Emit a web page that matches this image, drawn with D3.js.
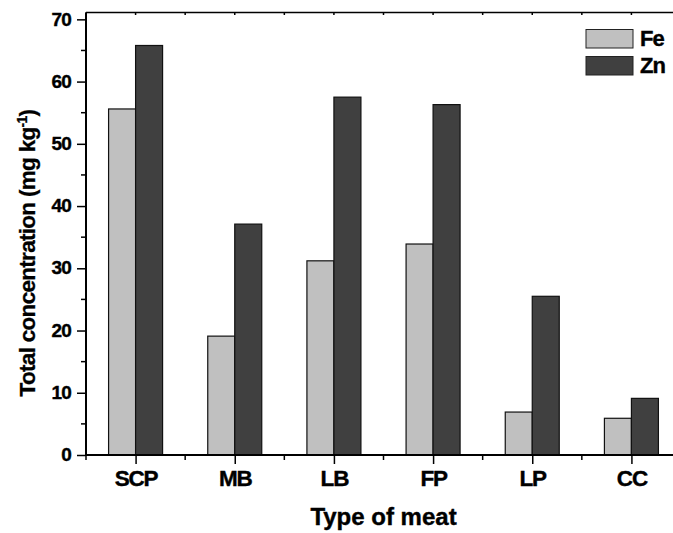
<!DOCTYPE html>
<html>
<head>
<meta charset="utf-8">
<script src="https://cdn.jsdelivr.net/npm/d3@7"></script>
<style>
  body { margin: 0; background: #fff; }
  text { font-family: "Liberation Sans", Arial, sans-serif; font-weight: bold; fill: #000; }
</style>
</head>
<body>
<svg id="chart" width="673" height="533"></svg>
<script>
var categories = ["SCP", "MB", "LB", "FP", "LP", "CC"]
var series = ["Fe", "Zn"]
var feValues = [55.6, 19.1, 31.2, 33.9, 6.9, 5.9]
var znValues = [65.8, 37.1, 57.5, 56.3, 25.5, 9.1]
var yTicks = [0, 10, 20, 30, 40, 50, 60, 70]
var colors = {Fe: "#c0c0c0", Zn: "#404040"}

var plotLeft = 86, plotRight = 681, plotTop = 12.5, plotBottom = 455
var svg = d3.select("#chart")

var x = d3.scalePoint().domain(categories).range([plotLeft, plotRight]).padding(0.5)
var step = x.step()
var xs = d3.scaleBand().domain(series).range([-27, 27])
var y = d3.scaleLinear().domain([0, 71.1]).range([plotBottom, plotTop])

var rows = categories.map(function(c, i) {
    return {cat: c, Fe: feValues[i], Zn: znValues[i]}
})

// bars
var g = svg.append("g")
g.selectAll("g.cat").data(rows).enter().append("g")
    .attr("transform", function(d) { return "translate(" + x(d.cat) + ",0)" })
    .selectAll("rect").data(function(d) { return series.map(function(s) { return {s: s, v: d[s]} }) })
    .enter().append("rect")
    .attr("x", function(d) { return xs(d.s) })
    .attr("width", xs.bandwidth())
    .attr("y", function(d) { return y(d.v) })
    .attr("height", function(d) { return plotBottom - y(d.v) })
    .attr("fill", function(d) { return colors[d.s] })
    .attr("stroke", "#111")
    .attr("stroke-width", 1.2)

// frame lines
svg.append("line").attr("x1", plotLeft).attr("x2", plotRight).attr("y1", plotTop).attr("y2", plotTop)
    .attr("stroke", "#000").attr("stroke-width", 1.5)
svg.append("line").attr("x1", plotRight).attr("x2", plotRight).attr("y1", plotTop).attr("y2", plotBottom)
    .attr("stroke", "#000").attr("stroke-width", 1.5)

// top axis small ticks
var halfTicks = d3.range(0, 13).map(function(i) { return plotLeft + i * step / 2 })
svg.selectAll("line.tt").data(halfTicks).enter().append("line")
    .attr("x1", function(d) { return d }).attr("x2", function(d) { return d })
    .attr("y1", plotTop).attr("y2", plotTop + 2.5)
    .attr("stroke", "#000").attr("stroke-width", 1.5)

// y axis
var yAxis = d3.axisLeft(y).tickValues(yTicks).tickSize(9).tickPadding(6).tickSizeOuter(0)
var ya = svg.append("g").attr("transform", "translate(" + plotLeft + ",0)").call(yAxis)
ya.select(".domain").attr("stroke-width", 2).attr("d", "M0," + plotBottom + "V" + plotTop)
ya.selectAll(".tick line").attr("stroke-width", 1.5)
ya.selectAll(".tick text")
    .attr("font-size", "19px").attr("letter-spacing", "-0.8px")
    .attr("font-family", "Liberation Sans, Arial, sans-serif").attr("font-weight", "bold")
    .attr("stroke", "#000").attr("stroke-width", 0.4)
    .attr("dy", "0.3em")
var yMinor = d3.range(5, 71, 10)
ya.selectAll("line.minor").data(yMinor).enter().append("line")
    .attr("x1", -5).attr("x2", 0)
    .attr("y1", function(d) { return y(d) }).attr("y2", function(d) { return y(d) })
    .attr("stroke", "#000").attr("stroke-width", 1.5)

// x axis
var xAxis = d3.axisBottom(x).tickSize(9).tickPadding(11).tickSizeOuter(0)
var xa = svg.append("g").attr("transform", "translate(0," + plotBottom + ")").call(xAxis)
xa.select(".domain").attr("stroke-width", 2).attr("d", "M" + plotLeft + ",0H" + plotRight)
xa.selectAll(".tick line").attr("stroke-width", 1.5)
xa.selectAll(".tick text")
    .attr("font-size", "22.5px").attr("letter-spacing", "-1.2px")
    .attr("font-family", "Liberation Sans, Arial, sans-serif").attr("font-weight", "bold")
    .attr("stroke", "#000").attr("stroke-width", 0.4)
    .attr("dy", "0.71em").attr("y", 15)
var xMinor = d3.range(0, 7).map(function(i) { return plotLeft + i * step })
xa.selectAll("line.minor").data(xMinor).enter().append("line")
    .attr("x1", function(d) { return d }).attr("x2", function(d) { return d })
    .attr("y1", 0).attr("y2", 5)
    .attr("stroke", "#000").attr("stroke-width", 1.5)

// titles
svg.append("text").attr("x", (plotLeft + plotRight) / 2).attr("y", 525)
    .attr("text-anchor", "middle").attr("font-size", "24px")
    .attr("stroke", "#000").attr("stroke-width", 0.4)
    .text("Type of meat")

var yt = svg.append("text").attr("transform", "translate(35,253) rotate(-90)")
    .attr("text-anchor", "middle").attr("font-size", "22.5px").attr("letter-spacing", "-0.7px")
    .attr("stroke", "#000").attr("stroke-width", 0.3)
yt.append("tspan").text("Total concentration (mg kg")
yt.append("tspan").attr("font-size", "14px").attr("dy", "-8").text("-1")
yt.append("tspan").attr("dy", "8").text(")")

// legend
var lg = svg.append("g").selectAll("g").data(series).enter().append("g")
    .attr("transform", function(d, i) { return "translate(586," + (29.5 + i * 27) + ")" })
lg.append("rect").attr("width", 47).attr("height", 18.5)
    .attr("fill", function(d) { return colors[d] })
    .attr("stroke", "#222").attr("stroke-width", 1)
lg.append("text").attr("x", 54).attr("y", 16).attr("font-size", "22px").attr("letter-spacing", "-1px")
    .attr("stroke", "#000").attr("stroke-width", 0.4)
    .text(function(d) { return d })
</script>
</body>
</html>
